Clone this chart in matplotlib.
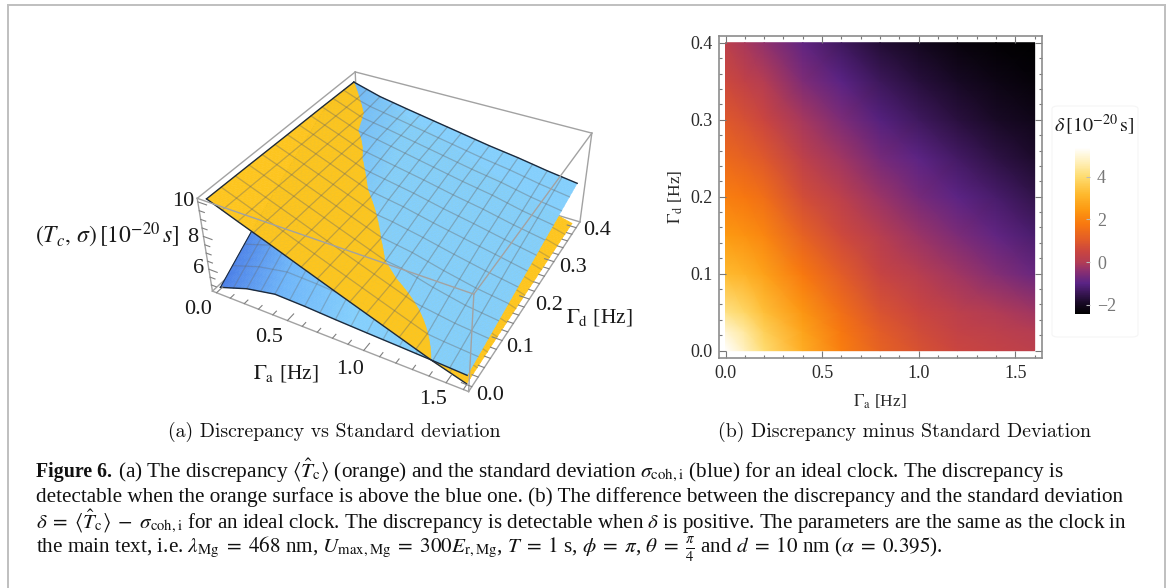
import numpy as np
import matplotlib
matplotlib.use('Agg')
import matplotlib.pyplot as plt
from matplotlib.colors import LinearSegmentedColormap, to_rgb
from matplotlib.lines import Line2D
from matplotlib.patches import FancyBboxPatch
from mpl_toolkits.mplot3d.art3d import Poly3DCollection

plt.rcParams['font.family']=['Liberation Serif','DejaVu Serif']
plt.rcParams['mathtext.fontset']='stix'

W,H=1168,588

# left panel, values
gamma_a=[0,0.2,0.4,0.6,0.8,1.0,1.2,1.4,1.6]
gamma_d=[0,0.1,0.2,0.3,0.4]
t_c=[[10.05,10.02,9.98,9.95,9.9],
     [9.35,9.35,9.33,9.3,9.27],
     [8.67,8.67,8.65,8.63,8.6],
     [7.97,7.98,7.97,7.95,7.93],
     [7.28,7.3,7.3,7.28,7.26],
     [6.6,6.62,6.62,6.6,6.58],
     [5.92,5.95,5.95,5.93,5.92],
     [5.24,5.32,5.33,5.3,5.27],
     [4.65,4.72,4.75,4.78,4.8]]
sigma=[[4.7,6.5,8.1,9.65,9.9],
       [5.3,7.05,8.2,9.18,9.42],
       [5.65,7.35,8.35,8.9,9.1],
       [5.6,7.25,8.05,8.55,8.8],
       [5.5,7.1,7.75,8.2,8.5],
       [5.42,6.85,7.35,7.85,8.2],
       [5.35,6.35,7.0,7.55,7.95],
       [5.27,5.95,6.65,7.15,7.65],
       [5.18,5.73,6.29,6.85,7.4]]

# right panel, values
heat_a=[0,0.1,0.2,0.4,0.6,0.8,1.0,1.2,1.4,1.6]
heat_d=[0,0.025,0.05,0.1,0.15,0.2,0.25,0.3,0.35,0.4]
delta=[[5.37,4.9,4.2,3.2,2.5,1.9,1.4,0.95,0.55,0.2],
       [4.7,4.4,3.85,3.0,2.3,1.75,1.2,0.75,0.3,-0.1],
       [4.0,3.7,3.3,2.65,2.05,1.5,0.95,0.5,0.05,-0.35],
       [2.9,2.7,2.4,1.8,1.2,0.7,0.25,-0.15,-0.55,-0.9],
       [1.9,1.75,1.55,1.05,0.6,0.2,-0.2,-0.6,-1.0,-1.35],
       [1.2,1.05,0.85,0.45,0.1,-0.25,-0.65,-1.05,-1.4,-1.75],
       [0.8,0.65,0.5,0.1,-0.25,-0.65,-0.95,-1.35,-1.7,-2.0],
       [0.5,0.35,0.2,-0.2,-0.6,-0.95,-1.3,-1.65,-1.95,-2.25],
       [0.35,0.2,0.0,-0.5,-0.9,-1.25,-1.6,-1.9,-2.15,-2.35],
       [0.2,0.05,-0.2,-0.8,-1.2,-1.55,-1.85,-2.1,-2.3,-2.44]]
bar_ticks=[-2,0,2,4]
bar_labels=['\u22122','0','2','4']

def px(x,y):
    return x/W,1-y/H

def rect(x0,y0,x1,y1):
    return [x0/W,1-y1/H,(x1-x0)/W,(y1-y0)/H]

def fine(tab,a,d,new_a,new_d):
    tab=np.array(tab,float)
    rows=np.array([np.interp(new_d,d,row) for row in tab])
    return np.array([np.interp(new_a,a,rows[:,j]) for j in range(rows.shape[1])]).T

def clip_tri(v,sign):
    out=[]
    for i in range(3):
        p=v[i]
        q=v[(i+1)%3]
        dp=sign*(p[2]-p[3])
        dq=sign*(q[2]-q[3])
        if dp>=0:
            out.append(p)
        if dp*dq<0:
            out.append(p+dp/(dp-dq)*(q-p))
    return out

fig=plt.figure(figsize=(W/100,H/100),dpi=100)

# page frame
frame_col='#bfbfbf'
fig.add_artist(Line2D([8/W,8/W],[0,1-4.5/H],color=frame_col,lw=1.4))
fig.add_artist(Line2D([8/W,1165/W],[1-4.5/H,1-4.5/H],color=frame_col,lw=1.4))
fig.add_artist(Line2D([1165/W,1165/W],[0,1-4.5/H],color=frame_col,lw=1.4))

# ---- 3d panel
ax=fig.add_axes(rect(199.4,16.7,599.0,416.3),projection='3d',computed_zorder=False)
ax.set_axis_off()
xl=(-0.03,1.63)
yl=(-0.01,0.418)
zl=(4.6,10.2)
ax.set_xlim(*xl)
ax.set_ylim(*yl)
ax.set_zlim(*zl)
ax.view_init(36.0839,-61.2753,0.2251)
ax.set_proj_type('persp',focal_length=0.4322)
ax.set_box_aspect((1,1.0039,0.4016))

fa=np.linspace(0,1.6,65)
fd=np.linspace(0,0.4,37)
zo=fine(t_c,gamma_a,gamma_d,fa,fd)
zb=fine(sigma,gamma_a,gamma_d,fa,fd)

orange=to_rgb('#fdc51e')
blue0,blue1,blue2=[np.array(to_rgb(c)) for c in ('#4a7de6','#6fb6f9','#84cffc')]
def blue_col(a,d):
    t=np.clip((a+1.2*d)/0.9,0,1)
    if t<0.5:
        return blue0+(blue1-blue0)*t*2
    return blue1+(blue2-blue1)*(t-0.5)*2

low_polys=[];low_cols=[];up_polys=[];up_cols=[]
for i in range(len(fa)-1):
    for j in range(len(fd)-1):
        n=[np.array([fa[i+k],fd[j+m],zo[i+k,j+m],zb[i+k,j+m]]) for k,m in ((0,0),(1,0),(1,1),(0,1))]
        for tri in ([n[0],n[1],n[2]],[n[0],n[2],n[3]]):
            for sign in (1,-1):
                part=clip_tri(tri,sign)
                if len(part)<3:
                    continue
                pa=np.array(part)
                c=blue_col(pa[:,0].mean(),pa[:,1].mean())
                po=[(p[0],p[1],p[2]) for p in part]
                pb=[(p[0],p[1],p[3]) for p in part]
                if sign>0:
                    up_polys.append(po);up_cols.append(orange)
                    low_polys.append(pb);low_cols.append(c)
                else:
                    up_polys.append(pb);up_cols.append(c)
                    low_polys.append(po);low_cols.append(orange)

box_col='#a2a2a2'
x0,x1=xl;y0,y1=yl;z0,z1=zl
# back edges of the box go under the surfaces
for seg in [((x0,x0),(y1,y1),(z0,z1)),((x0,x0),(y0,y1),(z0,z0)),((x0,x1),(y1,y1),(z0,z0))]:
    ax.plot(*seg,color=box_col,lw=1,zorder=1,clip_on=False)

low=Poly3DCollection(low_polys,facecolors=low_cols,edgecolors=low_cols,linewidths=0.4,zorder=2,clip_on=False)
ax.add_collection3d(low)
up=Poly3DCollection(up_polys,facecolors=up_cols,edgecolors=up_cols,linewidths=0.4,zorder=5,clip_on=False)
ax.add_collection3d(up)

mesh_col='#666666'
zlow=np.minimum(zo,zb)
ztop=np.maximum(zo,zb)
for i in range(4,len(fa)-1,4):
    ax.plot([fa[i]]*len(fd),fd,zlow[i,:],color=mesh_col,alpha=0.32,lw=0.9,zorder=3,clip_on=False)
    ax.plot([fa[i]]*len(fd),fd,ztop[i,:],color=mesh_col,alpha=0.38,lw=0.9,zorder=6,clip_on=False)
for j in range(3,len(fd)-1,3):
    ax.plot(fa,[fd[j]]*len(fa),zlow[:,j],color=mesh_col,alpha=0.32,lw=0.9,zorder=3,clip_on=False)
    ax.plot(fa,[fd[j]]*len(fa),ztop[:,j],color=mesh_col,alpha=0.38,lw=0.9,zorder=6,clip_on=False)

edge_col='#1d2a3c'
ax.plot([0]*len(fd),fd,zb[0,:],color=edge_col,lw=0.8,zorder=4,clip_on=False)
ax.plot([0]*len(fd),fd,zo[0,:],color=edge_col,lw=1,zorder=7,clip_on=False)
ax.plot(fa,[0]*len(fa),zo[:,0],color=edge_col,lw=1,zorder=7,clip_on=False)
ax.plot(fa,[0]*len(fa),zb[:,0],color=edge_col,lw=1,zorder=7,clip_on=False)
ax.plot(fa,[0.4]*len(fa),zb[:,-1],color=edge_col,lw=1,zorder=7,clip_on=False)

for seg in [((x0,x1),(y0,y0),(z1,z1)),((x1,x1),(y0,y1),(z1,z1)),((x0,x1),(y1,y1),(z1,z1)),((x0,x0),(y0,y1),(z1,z1)),
            ((x0,x0),(y0,y0),(z0,z1)),((x1,x1),(y0,y0),(z0,z1)),((x1,x1),(y1,y1),(z0,z1)),
            ((x0,x1),(y0,y0),(z0,z0)),((x1,x1),(y0,y1),(z0,z0))]:
    ax.plot(*seg,color=box_col,lw=1,zorder=8,clip_on=False)

tick_col='#808080'
for t in np.arange(0,1.61,0.1):
    major=abs(t*2-round(t*2))<1e-6
    ax.plot((t,t),(y0,y0+(0.016 if major else 0.009)),(z0,z0),color=tick_col,lw=0.8,zorder=8,clip_on=False)
for t in np.arange(0,0.41,0.02):
    major=abs(t*10-round(t*10))<1e-6
    ax.plot((x1,x1-(0.06 if major else 0.035)),(t,t),(z0,z0),color=tick_col,lw=0.8,zorder=8,clip_on=False)
for t in np.arange(5,10.1,0.5):
    major=abs(t/2-round(t/2))<1e-6
    ax.plot((x0,x0+(0.06 if major else 0.035)),(y0,y0),(t,t),color=tick_col,lw=0.8,zorder=8,clip_on=False)

for lab,x,y in [('0.0',198,310),('0.5',269,338),('1.0',350,369),('1.5',433,400),
                ('0.0',490,396),('0.1',520,347),('0.2',549,305),('0.3',573,267),('0.4',597,231),
                ('10',183,202),('8',193,237),('6',199,268)]:
    fig.text(*px(x,y),lab,fontsize=16,ha='center',va='center',color='#1a1a1a')
fig.text(*px(286,374),r'$\Gamma_{\mathrm{a}}$ [Hz]',fontsize=15.5,ha='center',va='center',color='#1a1a1a')
fig.text(*px(599,317),r'$\Gamma_{\mathrm{d}}$ [Hz]',fontsize=15.5,ha='center',va='center',color='#1a1a1a')
fig.text(*px(107,235),r'$(T_c,\,\sigma)\,\left[10^{-20}\,s\right]$',fontsize=17,ha='center',va='center',color='#1a1a1a')

# ---- heat map panel
sunset=LinearSegmentedColormap.from_list('sunset',[
    (0.0,'#000000'),(0.07,'#1a0a28'),(0.185,'#5a2385'),(0.26,'#8c3070'),(0.31,'#b23c55'),(0.375,'#c94540'),
    (0.44,'#e05a2a'),(0.54,'#f8780f'),(0.63,'#fd9a12'),(0.72,'#feb92e'),(0.825,'#fedc70'),(0.925,'#fff2c4'),(1.0,'#ffffff')])
hx=fig.add_axes(rect(719.4,35.7,1042,357.7))
mesh=hx.pcolormesh(heat_a,heat_d,np.array(delta).T,cmap=sunset,vmin=-2.44,vmax=5.37,shading='gouraud')
hx.set_xlim(-0.0316,1.638)
hx.set_ylim(-0.0091,0.4091)
hx.set_xticks([0,0.5,1.0,1.5])
hx.set_yticks([0,0.1,0.2,0.3,0.4])
hx.set_xticks(np.arange(0,1.61,0.1),minor=True)
hx.set_yticks(np.arange(0,0.41,0.02),minor=True)
hx.set_xticklabels(['0.0','0.5','1.0','1.5'])
hx.set_yticklabels(['0.0','0.1','0.2','0.3','0.4'])
hx.tick_params(which='both',direction='in',top=True,right=True,color='#777777',width=0.8)
hx.tick_params(which='major',length=5,labelsize=13,labelcolor='#2a2a2a',pad=5)
hx.tick_params(which='minor',length=2.5)
for s in hx.spines.values():
    s.set_color('#8c8c8c')
    s.set_linewidth(1.2)
fig.text(*px(880,402),r'$\Gamma_{\mathrm{a}}$ [Hz]',fontsize=12.5,ha='center',va='center',color='#2a2a2a')
fig.text(*px(675.5,197),r'$\Gamma_{\mathrm{d}}$ [Hz]',fontsize=12.5,ha='center',va='center',rotation=90,color='#2a2a2a')

fig.add_artist(FancyBboxPatch((1052/W,1-337/H),86/W,231/H,boxstyle='round,pad=0,rounding_size=0.005',
                              transform=fig.transFigure,fc='white',ec='#f5f5f5',lw=0.8,zorder=-1))
cax=fig.add_axes(rect(1075,147.3,1090,314.3))
cb=fig.colorbar(mesh,cax=cax)
cb.set_ticks(bar_ticks)
cb.set_ticklabels(bar_labels)
cb.outline.set_visible(False)
cax.tick_params(length=3,direction='in',color='#bbbbbb',labelsize=13,labelcolor='#777777',pad=5)
fig.text(*px(1094,125),r'$\delta\,\left[10^{-20}\,\mathrm{s}\right]$',fontsize=14.5,ha='center',va='center',color='#1a1a1a')

# ---- captions, each one sized to the width it has in the picture
renderer=fig.canvas.get_renderer()
def fit_text(x,y,end,s,size,**kw):
    t=fig.text(*px(x,y),s,fontsize=size,va='baseline',ha='left',color='#111111',**kw)
    w=t.get_window_extent(renderer).width
    t.set_fontsize(size*(end-x)/w)
    return t

fit_text(168,437,502,'(a) Discrepancy vs Standard deviation',13,family='cmr10')
fit_text(718,437,1093,'(b) Discrepancy minus Standard Deviation',13,family='cmr10')
fit_text(36,477,112,'Figure 6.',14,weight='bold')
fit_text(118,477,1069,r'(a) The discrepancy $\langle\hat{T}_{\mathrm{c}}\rangle$ (orange) and the standard deviation $\sigma_{\mathrm{coh,i}}$ (blue) for an ideal clock. The discrepancy is',14)
fit_text(36,502,1126,'detectable when the orange surface is above the blue one. (b) The difference between the discrepancy and the standard deviation',14)
fit_text(36,528,1128,r'$\delta\;=\;\langle\hat{T}_{\mathrm{c}}\rangle\;-\;\sigma_{\mathrm{coh,i}}$ for an ideal clock. The discrepancy is detectable when $\delta$ is positive. The parameters are the same as the clock in',14)
fit_text(36,553,947,r'the main text, i.e. $\lambda_{\mathrm{Mg}}\;=\;468$ nm, $U_{\mathrm{max,Mg}}\;=\;300E_{\mathrm{r,Mg}}$, $T\;=\;1$ s, $\phi\;=\;\pi$, $\theta\;=\;\frac{\pi}{4}$ and $d\;=\;10$ nm ($\alpha\;=\;0.395$).',14)

fig.savefig('out.png',dpi=100)
